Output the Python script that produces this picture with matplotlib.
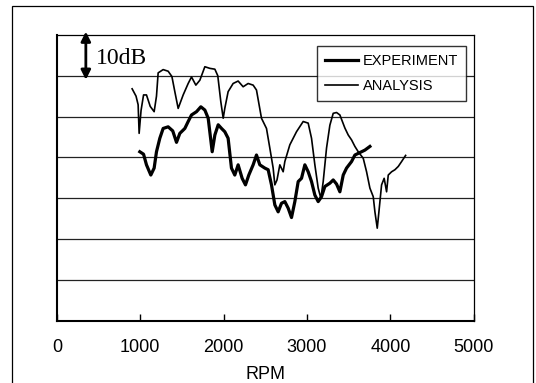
import matplotlib
matplotlib.use('Agg')
import matplotlib.pyplot as plt
from matplotlib.patches import Rectangle

# EXPERIMENT (thick line)
exp_rpm = [995, 1040, 1075, 1127, 1167, 1195, 1235, 1275, 1335, 1390, 1435, 1475, 1535, 1575,
           1615, 1675, 1727, 1775, 1815, 1863, 1895, 1935, 1975, 2014, 2054, 2094, 2134, 2174,
           2222, 2262, 2302, 2354, 2394, 2434, 2494, 2534, 2574, 2614, 2654, 2694, 2734, 2774,
           2814, 2854, 2894, 2934, 2974, 3014, 3054, 3094, 3134, 3174, 3214, 3274, 3314, 3354,
           3394, 3434, 3474, 3534, 3574, 3614, 3654, 3694, 3754]
exp_db = [41.4, 40.8, 38.2, 35.7, 37.4, 41.4, 44.7, 47.1, 47.5, 46.5, 43.7, 45.9, 47.1, 48.8,
          50.4, 51.2, 52.4, 51.6, 49.6, 41.4, 45.5, 48.0, 47.1, 46.3, 44.7, 37.4, 35.7, 38.2,
          34.9, 33.3, 35.7, 38.2, 40.6, 38.2, 37.4, 37.0, 33.3, 28.4, 26.7, 28.8, 29.2, 27.6,
          25.3, 29.2, 34.1, 34.9, 38.2, 36.5, 34.1, 30.8, 29.2, 30.4, 32.9, 33.7, 34.5, 33.5,
          31.6, 35.7, 37.4, 39.0, 40.6, 41.0, 41.4, 41.8, 42.7]

# ANALYSIS (thin line)
ana_rpm = [903, 950, 975, 987, 1010, 1040, 1075, 1120, 1167, 1195, 1215, 1275, 1335, 1380,
           1415, 1455, 1515, 1575, 1615, 1667, 1715, 1775, 1835, 1895, 1930, 1966, 1995, 2014,
           2054, 2114, 2174, 2234, 2294, 2354, 2394, 2454, 2514, 2554, 2594, 2614, 2640, 2674,
           2714, 2734, 2794, 2874, 2954, 3014, 3054, 3094, 3134, 3166, 3194, 3234, 3274, 3314,
           3354, 3394, 3454, 3494, 3534, 3574, 3614, 3674, 3714, 3754, 3794, 3814, 3842, 3862,
           3894, 3925, 3954, 3974, 4014, 4054, 4094, 4134, 4182]
ana_db = [56.8, 55.0, 52.9, 45.9, 51.5, 55.3, 55.3, 52.5, 51.2, 55.0, 60.7, 61.5, 61.1, 59.8,
          56.1, 52.0, 55.3, 58.1, 59.7, 57.7, 58.9, 62.2, 61.8, 61.6, 60.0, 53.7, 49.6, 52.0,
          56.1, 58.1, 58.7, 57.3, 58.1, 57.7, 56.5, 49.6, 47.1, 42.3, 37.4, 33.3, 34.5, 38.2,
          36.5, 39.0, 43.1, 46.3, 48.8, 48.4, 44.7, 38.2, 32.5, 30.0, 34.1, 42.3, 47.9, 50.8,
          51.0, 50.4, 47.2, 45.5, 44.3, 42.7, 41.4, 39.8, 36.5, 32.5, 30.4, 26.7, 22.7, 26.7,
          33.3, 34.9, 31.6, 35.7, 36.5, 37.0, 37.8, 39.0, 40.5]

x_ticks = [0, 1000, 2000, 3000, 4000, 5000]
y_grid = [0, 10, 20, 30, 40, 50, 60, 70]

fig = plt.figure(figsize=(5.36, 3.83), dpi=100)
ax = fig.add_axes([0.106, 0.162, 0.778, 0.747])

# outer chart frame
fig.patches.append(Rectangle((12 / 536, -0.02), 521 / 536, 1 - 6 / 383 + 0.02,
                             transform=fig.transFigure, fill=False,
                             edgecolor='black', linewidth=0.9))

for g in y_grid[1:-1]:
    ax.axhline(g, color='#222222', linewidth=0.9, zorder=1)

ax.plot(exp_rpm, exp_db, color='black', linewidth=2.3, label='EXPERIMENT', zorder=3)
ax.plot(ana_rpm, ana_db, color='black', linewidth=1.2, label='ANALYSIS', zorder=3)

ax.set_xlim(0, 5000)
ax.set_ylim(0, 70)
ax.set_xticks(x_ticks)
ax.set_xticklabels([str(t) for t in x_ticks], family='Liberation Sans', fontsize=13)
ax.set_yticks([])
ax.tick_params(axis='x', direction='in', length=5, width=1, pad=13)
ax.set_xlabel('RPM', family='Liberation Sans', fontsize=13, labelpad=7)

ax.spines['left'].set_linewidth(1.5)
ax.spines['bottom'].set_linewidth(1.5)
for s in ['top', 'right']:
    ax.spines[s].set_linewidth(0.9)
    ax.spines[s].set_linestyle((0, (4, 1)))

# 10dB scale marker
ax.annotate('', xy=(348, 70.8), xytext=(348, 59.0),
            arrowprops=dict(arrowstyle='<|-|>', color='black', lw=2,
                            mutation_scale=14, shrinkA=0, shrinkB=0),
            annotation_clip=False)
ax.text(470, 64.3, '10dB', family='Liberation Serif', fontsize=17, va='center', ha='left')

leg = ax.legend(loc='upper right', bbox_to_anchor=(0.981, 0.962), borderaxespad=0,
                frameon=True, fancybox=False, handlelength=2.3, handletextpad=0.3,
                labelspacing=0.8, borderpad=0.55,
                prop={'family': 'Liberation Sans', 'size': 10.5})
leg.get_frame().set_edgecolor('black')
leg.get_frame().set_linewidth(1.0)

plt.savefig('out.png', dpi=100)
